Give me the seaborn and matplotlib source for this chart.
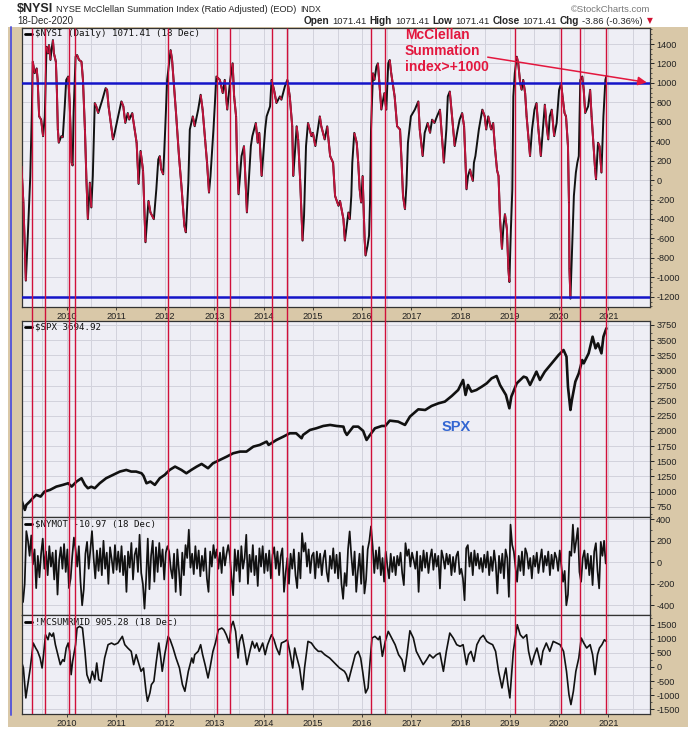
import numpy as np
import matplotlib
matplotlib.use("Agg")
import matplotlib.pyplot as plt
import seaborn as sns
from matplotlib.collections import LineCollection
from matplotlib.lines import Line2D
from matplotlib.patches import Rectangle
from matplotlib.ticker import FixedLocator, MultipleLocator

# ---------------- data (decimal years) ----------------
nysi_dates = [2009.08, 2009.12, 2009.17, 2009.21, 2009.26, 2009.29, 2009.31, 2009.35, 2009.39, 2009.41,
              2009.44, 2009.48, 2009.52, 2009.555, 2009.59, 2009.62, 2009.64, 2009.67, 2009.69, 2009.72,
              2009.74, 2009.78, 2009.80, 2009.82, 2009.84, 2009.89, 2009.92, 2009.96, 2009.99, 2010.03,
              2010.06, 2010.10, 2010.12, 2010.14, 2010.18, 2010.21, 2010.25, 2010.30, 2010.33, 2010.37,
              2010.40, 2010.42, 2010.43, 2010.47, 2010.50, 2010.53, 2010.57, 2010.60, 2010.64, 2010.72,
              2010.79, 2010.82, 2010.85, 2010.94, 2010.96, 2011.03, 2011.11, 2011.15, 2011.19, 2011.24,
              2011.27, 2011.33, 2011.38, 2011.42, 2011.46, 2011.50, 2011.55, 2011.60, 2011.62, 2011.66,
              2011.70, 2011.77, 2011.82, 2011.86, 2011.89, 2011.92, 2011.96, 2012.00, 2012.04, 2012.11,
              2012.14, 2012.17, 2012.22, 2012.28, 2012.33, 2012.39, 2012.42, 2012.47, 2012.50, 2012.56,
              2012.60, 2012.67, 2012.72, 2012.76, 2012.81, 2012.85, 2012.89, 2012.92, 2012.98, 2013.04,
              2013.11, 2013.17, 2013.21, 2013.26, 2013.32, 2013.37, 2013.40, 2013.44, 2013.46, 2013.49,
              2013.52, 2013.55, 2013.60, 2013.66, 2013.70, 2013.74, 2013.77, 2013.84, 2013.88, 2013.91,
              2013.96, 2014.03, 2014.06, 2014.13, 2014.16, 2014.21, 2014.26, 2014.33, 2014.36, 2014.43,
              2014.48, 2014.53, 2014.58, 2014.60, 2014.63, 2014.67, 2014.70, 2014.74, 2014.79, 2014.82,
              2014.86, 2014.90, 2014.97, 2015.00, 2015.05, 2015.14, 2015.17, 2015.24, 2015.29, 2015.35,
              2015.41, 2015.45, 2015.52, 2015.55, 2015.62, 2015.65, 2015.72, 2015.75, 2015.78, 2015.80,
              2015.84, 2015.89, 2015.92, 2015.95, 2015.98, 2016.01, 2016.05, 2016.07, 2016.11, 2016.14,
              2016.16, 2016.18, 2016.22, 2016.25, 2016.29, 2016.32, 2016.36, 2016.39, 2016.45, 2016.49,
              2016.53, 2016.56, 2016.59, 2016.66, 2016.71, 2016.77, 2016.80, 2016.83, 2016.87, 2016.90,
              2016.93, 2016.99, 2017.07, 2017.14, 2017.17, 2017.23, 2017.27, 2017.33, 2017.38, 2017.42,
              2017.47, 2017.52, 2017.58, 2017.62, 2017.66, 2017.71, 2017.74, 2017.78, 2017.82, 2017.88,
              2017.94, 2017.98, 2018.03, 2018.07, 2018.10, 2018.12, 2018.15, 2018.19, 2018.22, 2018.25,
              2018.27, 2018.30, 2018.37, 2018.44, 2018.49, 2018.52, 2018.56, 2018.62, 2018.66, 2018.70,
              2018.74, 2018.77, 2018.80, 2018.84, 2018.87, 2018.90, 2018.94, 2018.97, 2018.99, 2019.02,
              2019.05, 2019.07, 2019.10, 2019.14, 2019.17, 2019.21, 2019.24, 2019.27, 2019.31, 2019.34,
              2019.38, 2019.41, 2019.45, 2019.50, 2019.54, 2019.58, 2019.63, 2019.67, 2019.71, 2019.74,
              2019.78, 2019.81, 2019.85, 2019.90, 2019.95, 2020.00, 2020.04, 2020.07, 2020.11, 2020.14,
              2020.18, 2020.20, 2020.21, 2020.23, 2020.25, 2020.27, 2020.30, 2020.34, 2020.37, 2020.40,
              2020.43, 2020.47, 2020.50, 2020.53, 2020.59, 2020.63, 2020.66, 2020.70, 2020.73, 2020.75,
              2020.79, 2020.82, 2020.86, 2020.90, 2020.94, 2020.96]
nysi_values = [145, -230, -1035, -570, 40, 656, 1219, 1100, 1150, 1030,
               656, 622, 452, 656, 1372, 1304, 1390, 1236, 1338, 1441,
               1304, 1219, 929, 520, 384, 452, 440, 759, 1031, 1066,
               793, 179, 150, 690, 1270, 1287, 1236, 1219, 1031, 520,
               8, -265, -402, -26, -282, 42, 793, 759, 690, 820,
               946, 929, 759, 418, 452, 622, 810, 759, 588, 690,
               622, 690, 520, 384, -40, 300, 100, -640, -500, -214,
               -333, -402, -95, 213, 247, 111, 59, 520, 1031, 1338,
               1236, 1031, 690, 247, -60, -470, -538, -26, 520, 656,
               554, 725, 878, 725, 418, 179, -129, 42, 520, 1066,
               1031, 895, 1031, 725, 1031, 1202, 861, 656, 179, -146,
               42, 247, 350, -333, 0, 350, 452, 588, 384, 486,
               42, 520, 656, 759, 1031, 929, 793, 861, 827, 963,
               1031, 861, 554, 42, 247, 554, 418, 8, -623, -367,
               350, 588, 452, 486, 350, 656, 554, 418, 554, 247,
               179, -163, -265, -214, -402, -623, -333, -402, -163, 179,
               486, 384, 179, -95, -231, 42, -606, -777, -674, -572,
               -231, 520, 1100, 1031, 1168, 1202, 929, 725, 895, 725,
               1202, 1236, 1100, 861, 554, 520, 200, -163, -299, -50,
               384, 656, 725, 810, 520, 247, 486, 588, 486, 622,
               588, 656, 725, 452, 179, 520, 861, 912, 690, 350,
               520, 622, 690, 554, 179, -95, 42, 110, 42, -9,
               179, 247, 520, 725, 656, 520, 656, 520, 588, 315,
               100, 42, -402, -708, -470, -350, -504, -913, -1049, -520,
               -95, 861, 1100, 1270, 1202, 997, 929, 1031, 895, 656,
               418, 247, 520, 725, 793, 520, 247, 520, 776, 588,
               418, 656, 725, 452, 588, 929, 997, 861, 690, 656,
               350, -231, -913, -1220, -913, -572, -163, 76, 179, 247,
               1031, 1066, 929, 690, 759, 929, 656, 350, 120, 8,
               384, 350, 77, 656, 1031, 1071]

spx_dates = [2009.08, 2009.15, 2009.18, 2009.25, 2009.31, 2009.38, 2009.47, 2009.55, 2009.66, 2009.79,
             2009.92, 2010.03, 2010.10, 2010.20, 2010.30, 2010.37, 2010.43, 2010.50, 2010.57, 2010.67,
             2010.80, 2010.94, 2011.08, 2011.21, 2011.31, 2011.41, 2011.52, 2011.56, 2011.62, 2011.70,
             2011.79, 2011.89, 2011.99, 2012.09, 2012.20, 2012.33, 2012.43, 2012.53, 2012.64, 2012.74,
             2012.87, 2012.97, 2013.11, 2013.25, 2013.38, 2013.52, 2013.65, 2013.79, 2013.92, 2014.06,
             2014.10, 2014.26, 2014.40, 2014.53, 2014.66, 2014.77, 2014.80, 2014.94, 2015.07, 2015.21,
             2015.35, 2015.48, 2015.62, 2015.65, 2015.69, 2015.82, 2015.92, 2016.02, 2016.09, 2016.16,
             2016.26, 2016.40, 2016.47, 2016.56, 2016.73, 2016.87, 2016.97, 2017.14, 2017.28, 2017.41,
             2017.55, 2017.68, 2017.82, 2017.95, 2018.05, 2018.10, 2018.15, 2018.22, 2018.32, 2018.43,
             2018.53, 2018.63, 2018.73, 2018.80, 2018.86, 2018.92, 2018.99, 2019.03, 2019.14, 2019.28,
             2019.34, 2019.41, 2019.54, 2019.61, 2019.71, 2019.85, 2019.99, 2020.09, 2020.15, 2020.18,
             2020.23, 2020.26, 2020.33, 2020.40, 2020.47, 2020.50, 2020.60, 2020.68, 2020.74, 2020.79,
             2020.86, 2020.90, 2020.96]
spx_values = [862, 697, 780, 835, 890, 945, 917, 1000, 1027, 1082,
              1110, 1137, 1082, 1165, 1220, 1110, 1055, 1080, 1055, 1137,
              1220, 1275, 1330, 1357, 1330, 1330, 1302, 1260, 1137, 1165,
              1110, 1220, 1275, 1357, 1412, 1357, 1302, 1357, 1412, 1456,
              1385, 1467, 1522, 1577, 1632, 1660, 1660, 1742, 1770, 1825,
              1770, 1852, 1907, 1962, 1962, 1880, 1935, 2017, 2045, 2083,
              2100, 2083, 2072, 1990, 1935, 2072, 2072, 2002, 1852, 1935,
              2045, 2083, 2083, 2171, 2155, 2100, 2237, 2358, 2347, 2413,
              2457, 2485, 2578, 2677, 2842, 2595, 2760, 2650, 2677, 2732,
              2787, 2870, 2908, 2760, 2677, 2595, 2375, 2567, 2787, 2897,
              2880, 2760, 2980, 2842, 2980, 3117, 3255, 3337, 3227, 2732,
              2347, 2512, 2815, 2952, 3172, 3117, 3282, 3557, 3365, 3447,
              3282, 3557, 3695]

NYMOT_START = 2009.08
NYMOT_PER_YEAR = 30
nymot_values = [
    -300, -370, -200, 290, 200, 60, 250, -20, 120, -240, 60, -140, 80, 220, -60, 100, -120, 150, -40, 90, -160, 110, -300, 20, 140, -60, 170, -90, 120, -240,
    -150, 60, 230, 120, -40, 150, -180, -400, -250, 80, 190, -60, 120, 290, 40, -150, 110, -80, 130, -120, 200, -60, 90, -200, 140, 30, -100, 160, -70, 100,
    -90, 150, -120, 60, -275, 100, -50, 180, -160, 70, 130, -90, 256, -100, -200, -431, -150, 220, -250, 60, 200, -180, 140, -90, 180, -40, 120, -160, 90, 150,
    100, -60, -150, 80, -275, 120, -80, -306, 90, -120, 160, 40, 303, -50, 80, -110, 150, -60, 110, -130, 60, -80, 130, -150, -275, 100, -40, 160, 40, 120,
    -60, 90, -100, 140, -30, 80, 160, 60, -140, -306, 120, -80, 110, -180, 150, -60, 40, 256, -200, 70, -90, 160, -120, 60, -220, 130, -40, 150, -100, 80,
    -80, 110, -150, 70, 140, -60, 100, -120, 60, 130, -275, -100, 40, -200, 80, -60, 120, -120, -240, 90, -150, 271, 100, 180, -40, 120, -100, 60, 90, -150,
    100, -50, 80, -120, 40, 110, -90, -180, 60, -60, 130, -100, 70, -150, 90, -200, -340, -100, -220, 120, 287, 60, -120, 100, -275, -80, 80, -200, 150, -290,
    -160, 120, 200, 334, 150, -100, 110, -60, 140, -120, 40, -180, 100, -40, -150, 80, -90, 50, -120, 60, -30, 90, -100, -212, 178, 60, 120, -40, 90, 20,
    -60, 100, -275, 60, -80, 110, -50, 90, -100, 40, 120, -70, 80, -40, 60, -243, 110, 40, -60, 80, -20, 70, -120, 50, -90, 60, 100, -110, -60, -150,
    -353, 130, 160, -40, 90, -120, 110, -30, 80, -60, 40, -90, 70, -50, 100, -120, 50, -80, 110, -20, -290, 60, -100, 80, -150, 120, 40, -321, 350, 162,
    100, -40, -181, 60, -80, 100, -120, 130, 80, -60, 40, -150, 60, -40, 90, -100, 20, 120, -90, 60, -30, 100, -120, 70, -60, 90, 40, -80, 110, -40,
    -181, -80, -400, -300, 100, 60, 350, 90, 200, 318, -90, -181, 40, 110, -60, 80, -120, 60, -212, 100, 178, -80, -243, 190, 60, 200, -11,
]

mcs_dates = [2009.08, 2009.12, 2009.17, 2009.21, 2009.26, 2009.32, 2009.37, 2009.41, 2009.46, 2009.50,
             2009.53, 2009.57, 2009.62, 2009.65, 2009.70, 2009.73, 2009.77, 2009.82, 2009.87, 2009.92,
             2009.95, 2009.99, 2010.03, 2010.06, 2010.09, 2010.12, 2010.18, 2010.21, 2010.26, 2010.32,
             2010.37, 2010.41, 2010.47, 2010.52, 2010.57, 2010.61, 2010.65, 2010.70, 2010.77, 2010.84,
             2010.91, 2010.97, 2011.04, 2011.13, 2011.18, 2011.24, 2011.31, 2011.36, 2011.41, 2011.47,
             2011.51, 2011.56, 2011.61, 2011.64, 2011.69, 2011.72, 2011.77, 2011.82, 2011.87, 2011.91,
             2011.94, 2011.99, 2012.06, 2012.10, 2012.16, 2012.22, 2012.29, 2012.35, 2012.40, 2012.47,
             2012.54, 2012.57, 2012.60, 2012.67, 2012.72, 2012.76, 2012.81, 2012.87, 2012.91, 2012.97,
             2013.02, 2013.08, 2013.15, 2013.19, 2013.24, 2013.30, 2013.34, 2013.38, 2013.43, 2013.48,
             2013.51, 2013.56, 2013.61, 2013.66, 2013.72, 2013.77, 2013.82, 2013.86, 2013.91, 2013.98,
             2014.03, 2014.08, 2014.16, 2014.21, 2014.26, 2014.32, 2014.36, 2014.43, 2014.48, 2014.53,
             2014.59, 2014.63, 2014.66, 2014.73, 2014.79, 2014.83, 2014.90, 2014.97, 2015.04, 2015.11,
             2015.17, 2015.24, 2015.34, 2015.44, 2015.54, 2015.64, 2015.68, 2015.72, 2015.79, 2015.86,
             2015.92, 2015.97, 2016.01, 2016.07, 2016.12, 2016.15, 2016.20, 2016.26, 2016.33, 2016.36,
             2016.41, 2016.47, 2016.53, 2016.60, 2016.67, 2016.74, 2016.81, 2016.86, 2016.91, 2016.97,
             2017.04, 2017.10, 2017.17, 2017.24, 2017.31, 2017.37, 2017.44, 2017.51, 2017.58, 2017.65,
             2017.71, 2017.78, 2017.85, 2017.92, 2017.99, 2018.05, 2018.12, 2018.16, 2018.21, 2018.27,
             2018.33, 2018.40, 2018.46, 2018.53, 2018.58, 2018.65, 2018.71, 2018.77, 2018.84, 2018.89,
             2018.92, 2018.96, 2019.00, 2019.03, 2019.07, 2019.11, 2019.15, 2019.21, 2019.27, 2019.34,
             2019.38, 2019.44, 2019.50, 2019.55, 2019.63, 2019.67, 2019.74, 2019.81, 2019.88, 2019.95,
             2020.02, 2020.09, 2020.15, 2020.20, 2020.24, 2020.29, 2020.34, 2020.40, 2020.45, 2020.50,
             2020.56, 2020.63, 2020.68, 2020.73, 2020.78, 2020.82, 2020.87, 2020.92, 2020.96]
mcs_values = [200, -35, -1097, -625, -35, 850, 673, 555, 319, -35,
              437, 1145, 968, 1204, 1086, 1204, 791, 437, 83, 260,
              200, 673, 850, 555, -271, 200, 791, 1381, 1440, 1381,
              555, -271, -566, -153, -448, 142, -448, -507, 319, 791,
              850, 791, 850, 1086, 791, 673, 555, 83, 437, 83,
              -153, -35, -861, -1215, -920, -625, -507, 200, 850, 319,
              -153, 437, 1086, 968, 673, 319, -35, -625, -861, -153,
              319, 142, 437, 555, 791, 437, 83, -389, -35, 555,
              850, 1322, 1381, 1322, 1145, 850, 1440, 1617, 1263, 319,
              909, 1145, 673, 83, 555, 909, 673, 850, 555, 850,
              437, 791, 1145, 968, 673, 437, 850, 909, 968, 555,
              -35, 673, 437, -35, -802, -35, 909, 850, 673, 555,
              555, 437, 319, 142, -35, -153, -271, -507, -35, 437,
              555, 319, -153, -920, -743, -35, 1027, 1086, 968, 1086,
              378, 909, 1263, 1027, 791, 437, 260, -153, 437, 1286,
              1027, 555, 319, 83, 260, 437, 319, 437, 496, -153,
              555, 1204, 1027, 791, 732, 791, 83, 437, 555, 200,
              791, 1027, 1121, 909, 850, 791, 555, -153, -743, -271,
              -35, -625, -1097, -389, 555, 1027, 1499, 1145, 1027, 1145,
              555, 83, 437, 673, 83, 555, 850, 555, 909, 850,
              791, 555, -153, -979, -1333, -861, -153, 319, 1027, 850,
              673, 791, 437, -271, 437, 673, 791, 968, 905]

signal_dates = [2009.295, 2009.567, 2010.04, 2010.177, 2012.059, 2013.055, 2013.307, 2014.16,
                2014.478, 2016.18, 2016.47, 2019.106, 2020.035, 2020.427, 2020.955]

year_ticks = list(range(2010, 2022))
year_labels = [str(y) for y in year_ticks]
nysi_ticks = list(range(-1200, 1401, 200))
spx_ticks = list(range(750, 3751, 250))
nymot_ticks = [-400, -200, 0, 200, 400]
mcs_ticks = [-1500, -1000, -500, 0, 500, 1000, 1500]
nysi_levels = [1000, -1200]

# ---------------- style ----------------
sns.set_theme(style="white")
plt.rcParams['font.family'] = ['Liberation Sans', 'DejaVu Sans']
plt.rcParams['axes.unicode_minus'] = False

W, H = 690, 732
TAN = '#D9C8A8'
PANEL_BG = '#EEEEF5'
GRID = '#D2D2DC'
SIG_RED = '#D0103A'
ANN_RED = '#E3173E'
BLACK = '#111111'
FALL_RED = '#C0143C'
MONO = ['DejaVu Sans Mono']
XMIN, XMAX = 2009.092, 2021.846

fig = plt.figure(figsize=(W / 100, H / 100), dpi=100)
fig.patch.set_facecolor('white')


def fx(px):
    return px / W


def fy(py):
    return 1 - py / H


fig.add_artist(Rectangle((fx(8), fy(727)), fx(688) - fx(8), (727 - 27) / H,
                         transform=fig.transFigure, facecolor=TAN, edgecolor='none', zorder=0))
fig.add_artist(Line2D([fx(11), fx(11)], [fy(715), fy(27)], color='#5A5AD8', lw=1.4,
                      transform=fig.transFigure, zorder=1))

panels = [(28, 307), (321, 517), (517, 615), (615, 714)]
axs = []
for top, bot in panels:
    ax = fig.add_axes([fx(22), fy(bot), (650 - 22) / W, (bot - top) / H])
    ax.set_facecolor(PANEL_BG)
    ax.set_xlim(XMIN, XMAX)
    ax.set_axisbelow(True)
    ax.yaxis.tick_right()
    ax.xaxis.set_major_locator(FixedLocator(year_ticks))
    ax.xaxis.set_minor_locator(FixedLocator([y + 0.5 for y in range(2009, 2022)]))
    ax.grid(True, which='both', axis='x', color=GRID, lw=0.7)
    ax.grid(True, which='major', axis='y', color=GRID, lw=0.7)
    ax.tick_params(axis='y', which='major', direction='out', length=3, width=0.7, pad=1.5,
                   labelsize=6.6, labelcolor='#222222', right=True, left=False,
                   labelright=True, labelleft=False)
    ax.tick_params(axis='y', which='minor', direction='out', length=1.5, width=0.5,
                   right=True, left=False)
    for sp in ax.spines.values():
        sp.set_color('#333333')
        sp.set_linewidth(0.9)
    axs.append(ax)

ax1, ax2, ax3, ax4 = axs
for ax in (ax1, ax4):
    ax.set_xticklabels(year_labels)
    ax.tick_params(axis='x', which='major', length=2, width=0.6, pad=1.5, labelsize=6.6,
                   labelcolor='#222222', bottom=True)
    ax.tick_params(axis='x', which='minor', length=0)
for ax in (ax2, ax3):
    ax.tick_params(axis='x', which='both', length=0, labelbottom=False)

# ---- panel 1: NYSI ----
sns.lineplot(x=nysi_dates, y=nysi_values, ax=ax1, color=BLACK, lw=1.4, estimator=None, sort=False)
pts = np.column_stack([nysi_dates, nysi_values])
segs = np.stack([pts[:-1], pts[1:]], axis=1)
falling = np.diff(nysi_values) < 0
ax1.add_collection(LineCollection(segs[falling], colors=FALL_RED, linewidths=1.4, zorder=3))
for lvl in nysi_levels:
    ax1.axhline(lvl, color='#1414C8', lw=1.8, zorder=4)
ax1.set_ylim(-1306, 1565)
ax1.yaxis.set_major_locator(FixedLocator(nysi_ticks))
ax1.set_yticklabels([str(t) for t in nysi_ticks])
ax1.yaxis.set_minor_locator(MultipleLocator(50))

ax1.text(2016.87, 1560, "McClellan\nSummation\nindex>+1000", color=ANN_RED, fontsize=10,
         fontweight='bold', va='top', ha='left', linespacing=1.15, zorder=6)
ax1.annotate('', xy=(2021.78, 1005), xytext=(2018.55, 1265),
             arrowprops=dict(arrowstyle='-|>', color=ANN_RED, lw=1.1, mutation_scale=13,
                             shrinkA=0, shrinkB=0), zorder=6)

# ---- panel 2: SPX ----
sns.lineplot(x=spx_dates, y=spx_values, ax=ax2, color=BLACK, lw=1.9, estimator=None, sort=False)
ax2.set_ylim(580, 3816)
ax2.yaxis.set_major_locator(FixedLocator(spx_ticks))
ax2.set_yticklabels([str(t) for t in spx_ticks])
ax2.yaxis.set_minor_locator(MultipleLocator(125))
ax2.text(2017.906, 2058, "SPX", color='#3366D2', fontsize=10.5, fontweight='bold',
         ha='center', va='center')

# ---- panel 3: NYMOT ----
nymot_dates = NYMOT_START + np.arange(len(nymot_values)) / NYMOT_PER_YEAR
sns.lineplot(x=nymot_dates, y=nymot_values, ax=ax3, color=BLACK, lw=1.25, estimator=None, sort=False)
ax3.set_ylim(-490, 421)
ax3.yaxis.set_major_locator(FixedLocator(nymot_ticks))
ax3.set_yticklabels([str(t) for t in nymot_ticks])
ax3.yaxis.set_minor_locator(MultipleLocator(100))

# ---- panel 4: MCSUMRMID ----
sns.lineplot(x=mcs_dates, y=mcs_values, ax=ax4, color=BLACK, lw=1.2, estimator=None, sort=False)
ax4.set_ylim(-1667, 1844)
ax4.yaxis.set_major_locator(FixedLocator(mcs_ticks))
ax4.set_yticklabels([str(t) for t in mcs_ticks])
ax4.yaxis.set_minor_locator(MultipleLocator(250))

for ax in axs:
    ax.set_xlabel('')
    ax.set_ylabel('')

# panel titles
titles = [(34, r"\$NYSI (Daily) 1071.41 (18 Dec)"), (327, r"\$SPX 3694.92"),
          (524, r"\$NYMOT -10.97 (18 Dec)"), (622, "!MCSUMRMID 905.28 (18 Dec)")]
for ypx, s in titles:
    fig.add_artist(Line2D([fx(25), fx(32)], [fy(ypx), fy(ypx)], color='black', lw=2.0,
                          transform=fig.transFigure, zorder=5))
    fig.text(fx(35), fy(ypx), s, fontsize=6.6, family=MONO, va='center', ha='left',
             color='#111111', zorder=5)

# signal lines overlay across all panels
ov = fig.add_axes([fx(22), fy(714), (650 - 22) / W, (714 - 28) / H])
ov.set_xlim(XMIN, XMAX)
ov.set_ylim(0, 1)
ov.axis('off')
ov.patch.set_visible(False)
ov.set_zorder(10)
ov.vlines(signal_dates, 0, 1, colors=SIG_RED, lw=1.0)

# header
renderer = fig.canvas.get_renderer()
head_parts = [(r"\$NYSI", dict(fontsize=9, fontweight='bold'), 3),
              ("NYSE McClellan Summation Index (Ratio Adjusted) (EOD)", dict(fontsize=6.7), 4),
              ("INDX", dict(fontsize=6.2), 0)]
xcur = 17
for s, kw, gap in head_parts:
    t = fig.text(fx(xcur), fy(9.5), s, va='center', ha='left', **kw)
    xcur += t.get_window_extent(renderer).width + gap
fig.text(fx(650), fy(9), "\u00a9StockCharts.com", fontsize=6.8, va='center', ha='right',
         color='#777777')
fig.text(fx(17), fy(21), "18-Dec-2020", fontsize=7, va='center', ha='left')

parts = [("Open", True), ("1071.41", False), ("High", True), ("1071.41", False),
         ("Low", True), ("1071.41", False), ("Close", True), ("1071.41", False),
         ("Chg", True), ("-3.86 (-0.36%)", False)]
xcur = 304
for s, bold in parts:
    t = fig.text(fx(xcur), fy(21), s, fontsize=7.2 if bold else 6.8,
                 fontweight='bold' if bold else 'normal', va='center', ha='left')
    xcur += t.get_window_extent(renderer).width + 3
fig.text(fx(xcur + 1), fy(21), "\u25bc", fontsize=5.5, color='#D01030', va='center', ha='left',
         family=['DejaVu Sans'])

fig.savefig("out.png", dpi=100, facecolor='white')
